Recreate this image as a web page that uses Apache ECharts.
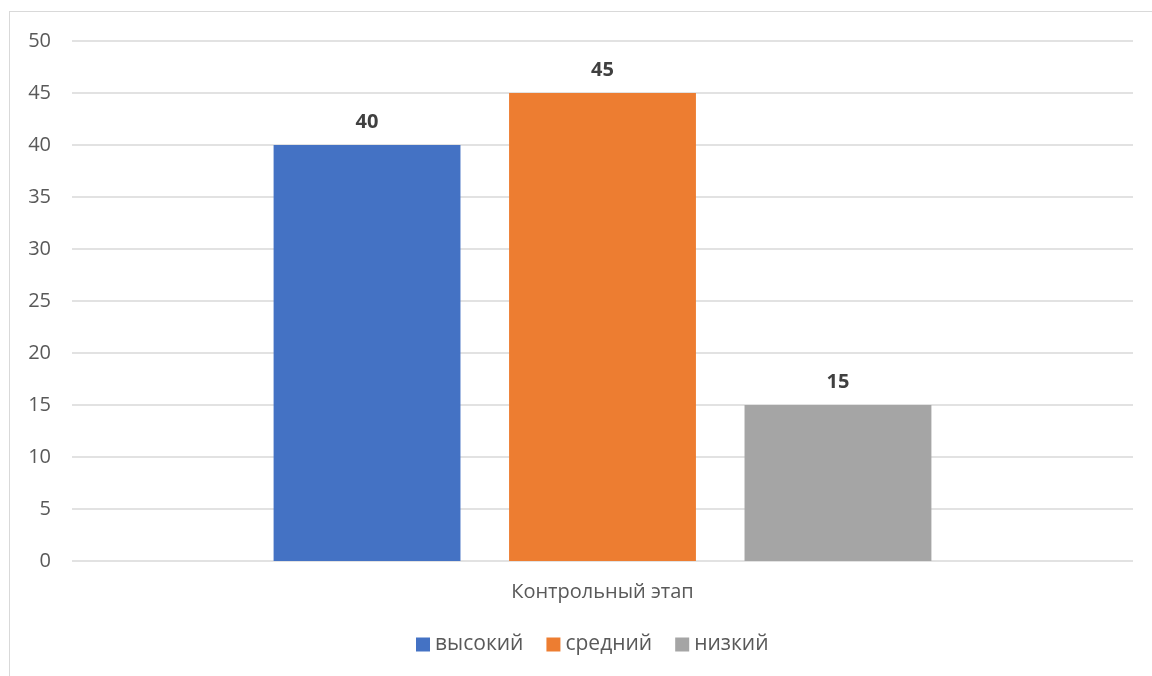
<!DOCTYPE html>
<html>
<head>
<meta charset="utf-8">
<style>
  html, body { margin: 0; padding: 0; background: #fff; }
  #frame { position: absolute; left: 9px; top: 11px; width: 1200px; height: 700px; border: 1px solid #D9D9D9; box-sizing: border-box; }
  #chart { position: absolute; left: 0; top: 0; width: 1152px; height: 676px; }
</style>
<script src="https://cdn.jsdelivr.net/npm/echarts@6/dist/echarts.min.js"></script>
</head>
<body>
<div id="frame"></div>
<div id="chart"></div>
<script>
// Categories, series and values
const categories = ['Контрольный этап'];
const seriesNames = ['высокий', 'средний', 'низкий'];
const seriesColors = ['#4472C4', '#ED7D31', '#A5A5A5'];
const valuesHigh = [40];
const valuesMid = [45];
const valuesLow = [15];
const seriesValues = [valuesHigh, valuesMid, valuesLow];

const font = '"Open Sans", "Noto Sans", sans-serif';
const textColor = '#595959';

const chart = echarts.init(document.getElementById('chart'), null, { renderer: 'canvas' });

chart.setOption({
  animation: false,
  textStyle: { fontFamily: font },
  grid: { left: 72, right: 19, top: 41, bottom: 115, containLabel: false },
  legend: {
    bottom: 16,
    left: 411,
    itemWidth: 14,
    itemHeight: 14,
    itemGap: 23,
    icon: 'rect',
    textStyle: { fontFamily: font, fontSize: 21, color: textColor },
    data: seriesNames
  },
  xAxis: {
    type: 'category',
    data: categories,
    axisLine: { show: false },
    axisTick: { show: false },
    axisLabel: { fontFamily: font, fontSize: 20, color: textColor, margin: 21 }
  },
  yAxis: {
    type: 'value',
    min: 0,
    max: 50,
    interval: 5,
    axisLine: { show: false },
    axisTick: { show: false },
    splitLine: { lineStyle: { color: '#D9D9D9', width: 1.5 } },
    axisLabel: { fontFamily: font, fontSize: 20, color: textColor, margin: 21 }
  },
  series: seriesNames.map((name, i) => ({
    name: name,
    type: 'bar',
    data: seriesValues[i],
    barGap: '26%',
    barCategoryGap: '38%',
    itemStyle: { color: seriesColors[i] },
    label: {
      show: true,
      position: 'top',
      distance: 13,
      fontFamily: font,
      fontSize: 20,
      fontWeight: 'bold',
      color: '#404040'
    }
  }))
});
</script>
</body>
</html>
